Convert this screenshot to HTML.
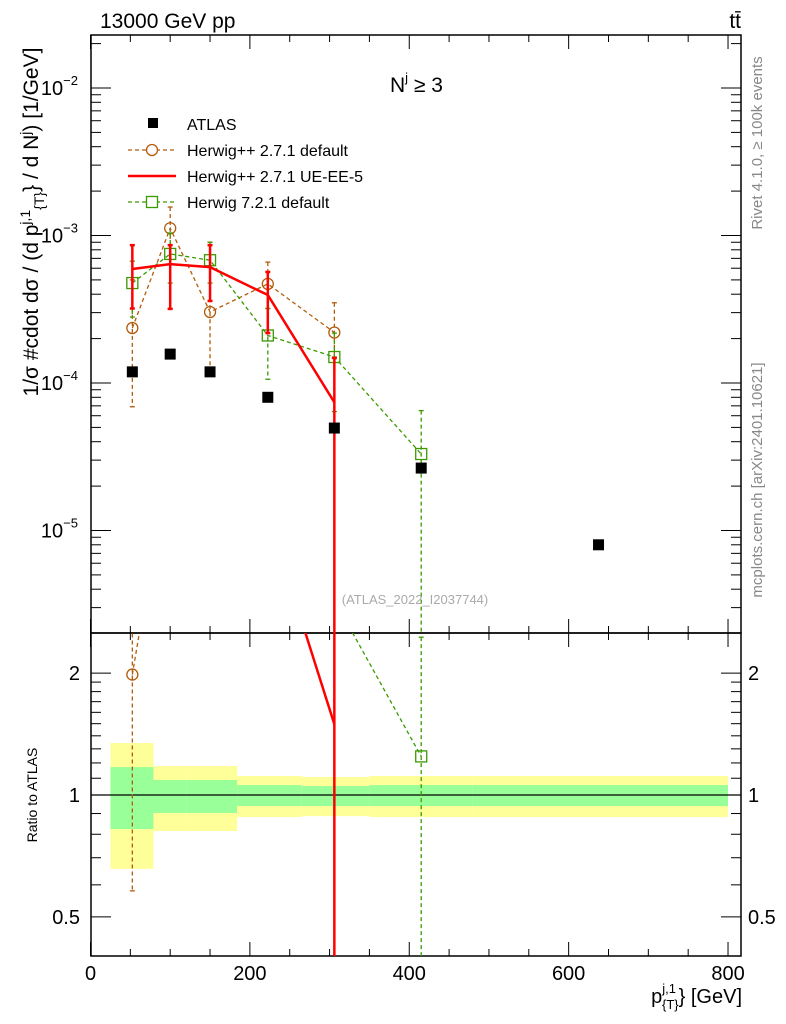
<!DOCTYPE html>
<html><head><meta charset="utf-8"><style>
html,body{margin:0;padding:0;background:#fff;overflow:hidden;}
svg{display:block;font-family:"Liberation Sans",sans-serif;}
</style></head><body>
<svg id="chart" width="786" height="1024" viewBox="0 0 786 1024" xmlns="http://www.w3.org/2000/svg">
<defs>
<clipPath id="cm"><rect x="91" y="35" width="650" height="598"/></clipPath>
<clipPath id="cr"><rect x="91" y="633" width="650" height="323"/></clipPath>
</defs>
<g id="bands" clip-path="url(#cr)"></g>
<g id="axes"></g>
<g id="main" clip-path="url(#cm)"></g>
<g id="ratio" clip-path="url(#cr)"></g>
<text x="100" y="28" font-size="21">13000 GeV pp</text>
<text x="741" y="28" font-size="21" text-anchor="end">tt̄</text>
<text x="390" y="92" font-size="21">N<tspan font-size="13" dy="-10">j</tspan><tspan dy="10"> ≥ 3</tspan></text>
<text x="415" y="604" font-size="13" fill="#aaa" text-anchor="middle">(ATLAS_2022_I2037744)</text>
<text transform="translate(762,143) rotate(-90)" font-size="15" fill="#888" text-anchor="middle">Rivet 4.1.0, ≥ 100k events</text>
<text transform="translate(762,480) rotate(-90)" font-size="15" fill="#888" text-anchor="middle">mcplots.cern.ch [arXiv:2401.10621]</text>
<text transform="translate(38,222) rotate(-90)" font-size="21" text-anchor="middle">1/σ #cdot dσ / (d p<tspan font-size="14" dy="-8">j,1</tspan><tspan font-size="14" dy="14">{T}</tspan><tspan dy="-6">} / d N</tspan><tspan font-size="14" dy="-8">j</tspan><tspan dy="8">) [1/GeV]</tspan></text>
<text transform="translate(37,795) rotate(-90)" font-size="14" text-anchor="middle">Ratio to ATLAS</text>
<text x="742" y="1003" font-size="20" text-anchor="end">p<tspan font-size="13" dy="-10">j,1</tspan><tspan font-size="13" dx="-14" dy="16">{T}</tspan><tspan dy="-6">} [GeV]</tspan></text>
<g>
<rect x="148" y="118" width="10" height="10" fill="#000"/>
<text x="187" y="130" font-size="16">ATLAS</text>
<line x1="128" y1="150" x2="176" y2="150" stroke="#b25c0a" stroke-dasharray="4,3" stroke-width="1.3"/>
<circle cx="152" cy="150" r="5.5" fill="#fff" stroke="#b25c0a" stroke-width="1.3"/>
<text x="187" y="156" font-size="16">Herwig++ 2.7.1 default</text>
<line x1="128" y1="176" x2="176" y2="176" stroke="#f00" stroke-width="2.5"/>
<text x="187" y="182" font-size="16">Herwig++ 2.7.1 UE-EE-5</text>
<line x1="128" y1="202" x2="176" y2="202" stroke="#3a9a00" stroke-dasharray="4,3" stroke-width="1.3"/>
<rect x="146.5" y="196.5" width="11" height="11" fill="#fff" stroke="#3a9a00" stroke-width="1.3"/>
<text x="187" y="208" font-size="16">Herwig 7.2.1 default</text>
</g>
</svg>
<script>
const xCenters=[52.5,100,150,222.5,306,415,637.5];
const atlasVals=[1.19e-4,1.57e-4,1.19e-4,8.0e-5,4.95e-5,2.65e-5,8.0e-6];
const brownX=[52.5,100,150,222.5,306];
const brownVals=[2.36e-4,1.12e-3,3.03e-4,4.7e-4,2.2e-4];
const brownUp=[5.0e-4,1.56e-3,9.0e-4,6.6e-4,3.5e-4];
const brownDn=[6.9e-5,3.2e-4,1.26e-4,3.2e-4,1.5e-4];
const redX=[52.5,100,150,222.5,306];
const redVals=[5.93e-4,6.4e-4,6.1e-4,3.95e-4,7.4e-5];
const redUp=[8.6e-4,8.6e-4,8.6e-4,5.66e-4,1.48e-4];
const redDn=[3.2e-4,3.18e-4,3.6e-4,2.18e-4,0];
const greenX=[52.5,100,150,222.5,306,415];
const greenVals=[4.76e-4,7.5e-4,6.8e-4,2.1e-4,1.5e-4,3.3e-5];
const greenUp=[6.7e-4,1.04e-3,9.0e-4,3.2e-4,2.18e-4,6.5e-5];
const greenDn=[2.8e-4,4.76e-4,4.76e-4,1.06e-4,6.4e-5,0];
const bandEdges=[25,79,120,184,265,350,479,800];
const yellowHi=[1.344,1.179,1.179,1.114,1.108,1.114,1.114];
const yellowLo=[0.657,0.815,0.815,0.882,0.887,0.882,0.882];
const greenHi=[1.172,1.089,1.089,1.058,1.052,1.058,1.058];
const greenLo=[0.824,0.903,0.903,0.939,0.939,0.939,0.939];
const xTicks=[0,200,400,600,800];

const NS="http://www.w3.org/2000/svg";
const X=v=>90.5+0.7969*v;
const Y=v=>v<=0?2000:383-147.5*(Math.log10(v)+4);
const R=v=>v<=0?2000:795-405*Math.log10(v);
function mk(tag,attrs,parent){const e=document.createElementNS(NS,tag);for(const k in attrs)e.setAttribute(k,attrs[k]);parent.appendChild(e);return e;}
const axes=document.getElementById('axes'),main=document.getElementById('main'),ratio=document.getElementById('ratio'),bands=document.getElementById('bands');

for(let i=0;i<yellowHi.length;i++){
 let r=mk('rect',{x:X(bandEdges[i]),y:R(yellowHi[i]),width:X(bandEdges[i+1])-X(bandEdges[i]),height:R(yellowLo[i])-R(yellowHi[i]),fill:'#ffff99'},bands);
 
 
 let g=mk('rect',{x:X(bandEdges[i]),y:R(greenHi[i]),width:X(bandEdges[i+1])-X(bandEdges[i]),height:R(greenLo[i])-R(greenHi[i]),fill:'#99ff99'},bands);
 
 
}
mk('rect',{x:91,y:35,width:650,height:598,fill:'none',stroke:'#000','stroke-width':1.5},axes);
mk('rect',{x:91,y:633,width:650,height:323,fill:'none',stroke:'#000','stroke-width':1.5},axes);
mk('line',{x1:91,x2:741,y1:R(1),y2:R(1),stroke:'#000','stroke-width':1.2},axes);
for(let v=0;v<=800;v+=50){const big=v%200===0;const L=big?14:7;const x=X(v);
 [[35,35+L],[633,633-L],[633,633+L],[956,956-L]].forEach(p=>mk('line',{x1:x,x2:x,y1:p[0],y2:p[1],stroke:'#000'},axes));}
xTicks.forEach(v=>{const t=mk('text',{x:X(v),y:980,'font-size':20,'text-anchor':'middle'},axes);t.textContent=v;
 
 });
for(let e=-6;e<=-2;e++){for(let m=1;m<10;m++){const v=m*Math.pow(10,e);const y=Y(v);if(y<35||y>633)continue;const L=m===1?20:10;
 mk('line',{x1:91,x2:91+L,y1:y,y2:y,stroke:'#000'},axes);mk('line',{x1:741,x2:741-L,y1:y,y2:y,stroke:'#000'},axes);}}
[-2,-3,-4,-5].forEach(e=>{const t=mk('text',{x:78,y:Y(Math.pow(10,e))+7,'font-size':20,'text-anchor':'end'},axes);
 t.innerHTML='10<tspan font-size="13" dy="-10">'+(e===-2?'−2':e===-3?'−3':e===-4?'−4':'−5')+'</tspan>';
 
 });
[0.5,0.6,0.7,0.8,0.9,1,1.1,1.2,1.3,1.4,1.5,1.6,1.7,1.8,1.9,2].forEach(v=>{const y=R(v);const big=(v===0.5||v===1||v===2);const L=big?20:10;
 mk('line',{x1:91,x2:91+L,y1:y,y2:y,stroke:'#000'},axes);mk('line',{x1:741,x2:741-L,y1:y,y2:y,stroke:'#000'},axes);});
[[2,'2'],[1,'1'],[0.5,'0.5']].forEach(p=>{[[80,'end'],[748,'start']].forEach(q=>{const t=mk('text',{x:q[0],y:R(p[0])+7,'font-size':20,'text-anchor':q[1]},axes);t.textContent=p[1];
 
 });});

function series(xs,vals,up,dn,color,dash,width,marker,name,ratioMode){
 const g=ratioMode?ratio:main;
 const f=ratioMode?((v,i)=>R(v/atlasVals[i])):((v)=>Y(v));
 const pts=xs.map((x,i)=>X(x)+','+f(vals[i],i)).join(' ');
 const l=mk('polyline',{points:pts,fill:'none',stroke:color,'stroke-width':width},g);
 if(dash)l.setAttribute('stroke-dasharray',dash);
 
 
 xs.forEach((x,i)=>{const cx=X(x);
  const cy=f(vals[i],i);
  if(ratioMode&&(cy<633||cy>956))return;
  const e=mk('line',{x1:cx,x2:cx,y1:f(up[i],i),y2:f(dn[i],i),stroke:color,'stroke-width':width},g);
  if(dash)e.setAttribute('stroke-dasharray',dash);
  
  
  [up[i],dn[i]].forEach(v=>mk('line',{x1:cx-2.5,x2:cx+2.5,y1:f(v,i),y2:f(v,i),stroke:color,'stroke-width':width},g));
  let m;
  if(marker==='circle')m=mk('circle',{cx:cx,cy:cy,r:5.5,fill:'none',stroke:color,'stroke-width':1.3},g);
  else if(marker==='square')m=mk('rect',{x:cx-5.5,y:cy-5.5,width:11,height:11,fill:'none',stroke:color,'stroke-width':1.3},g);
  if(m){
  }
 });
}
[false,true].forEach(rm=>{
 series(brownX,brownVals,brownUp,brownDn,'#b25c0a','4,3',1.3,'circle','herwigpp-default',rm);
 series(greenX,greenVals,greenUp,greenDn,'#3a9a00','4,3',1.3,'square','herwig7-default',rm);
 series(redX,redVals,redUp,redDn,'#ff0000',null,2.5,null,'herwigpp-ue-ee-5',rm);
});
xCenters.forEach((x,i)=>{const r=mk('rect',{x:X(x)-5.5,y:Y(atlasVals[i])-5.5,width:11,height:11,fill:'#000'},main);
 
 });
</script>
</body></html>
